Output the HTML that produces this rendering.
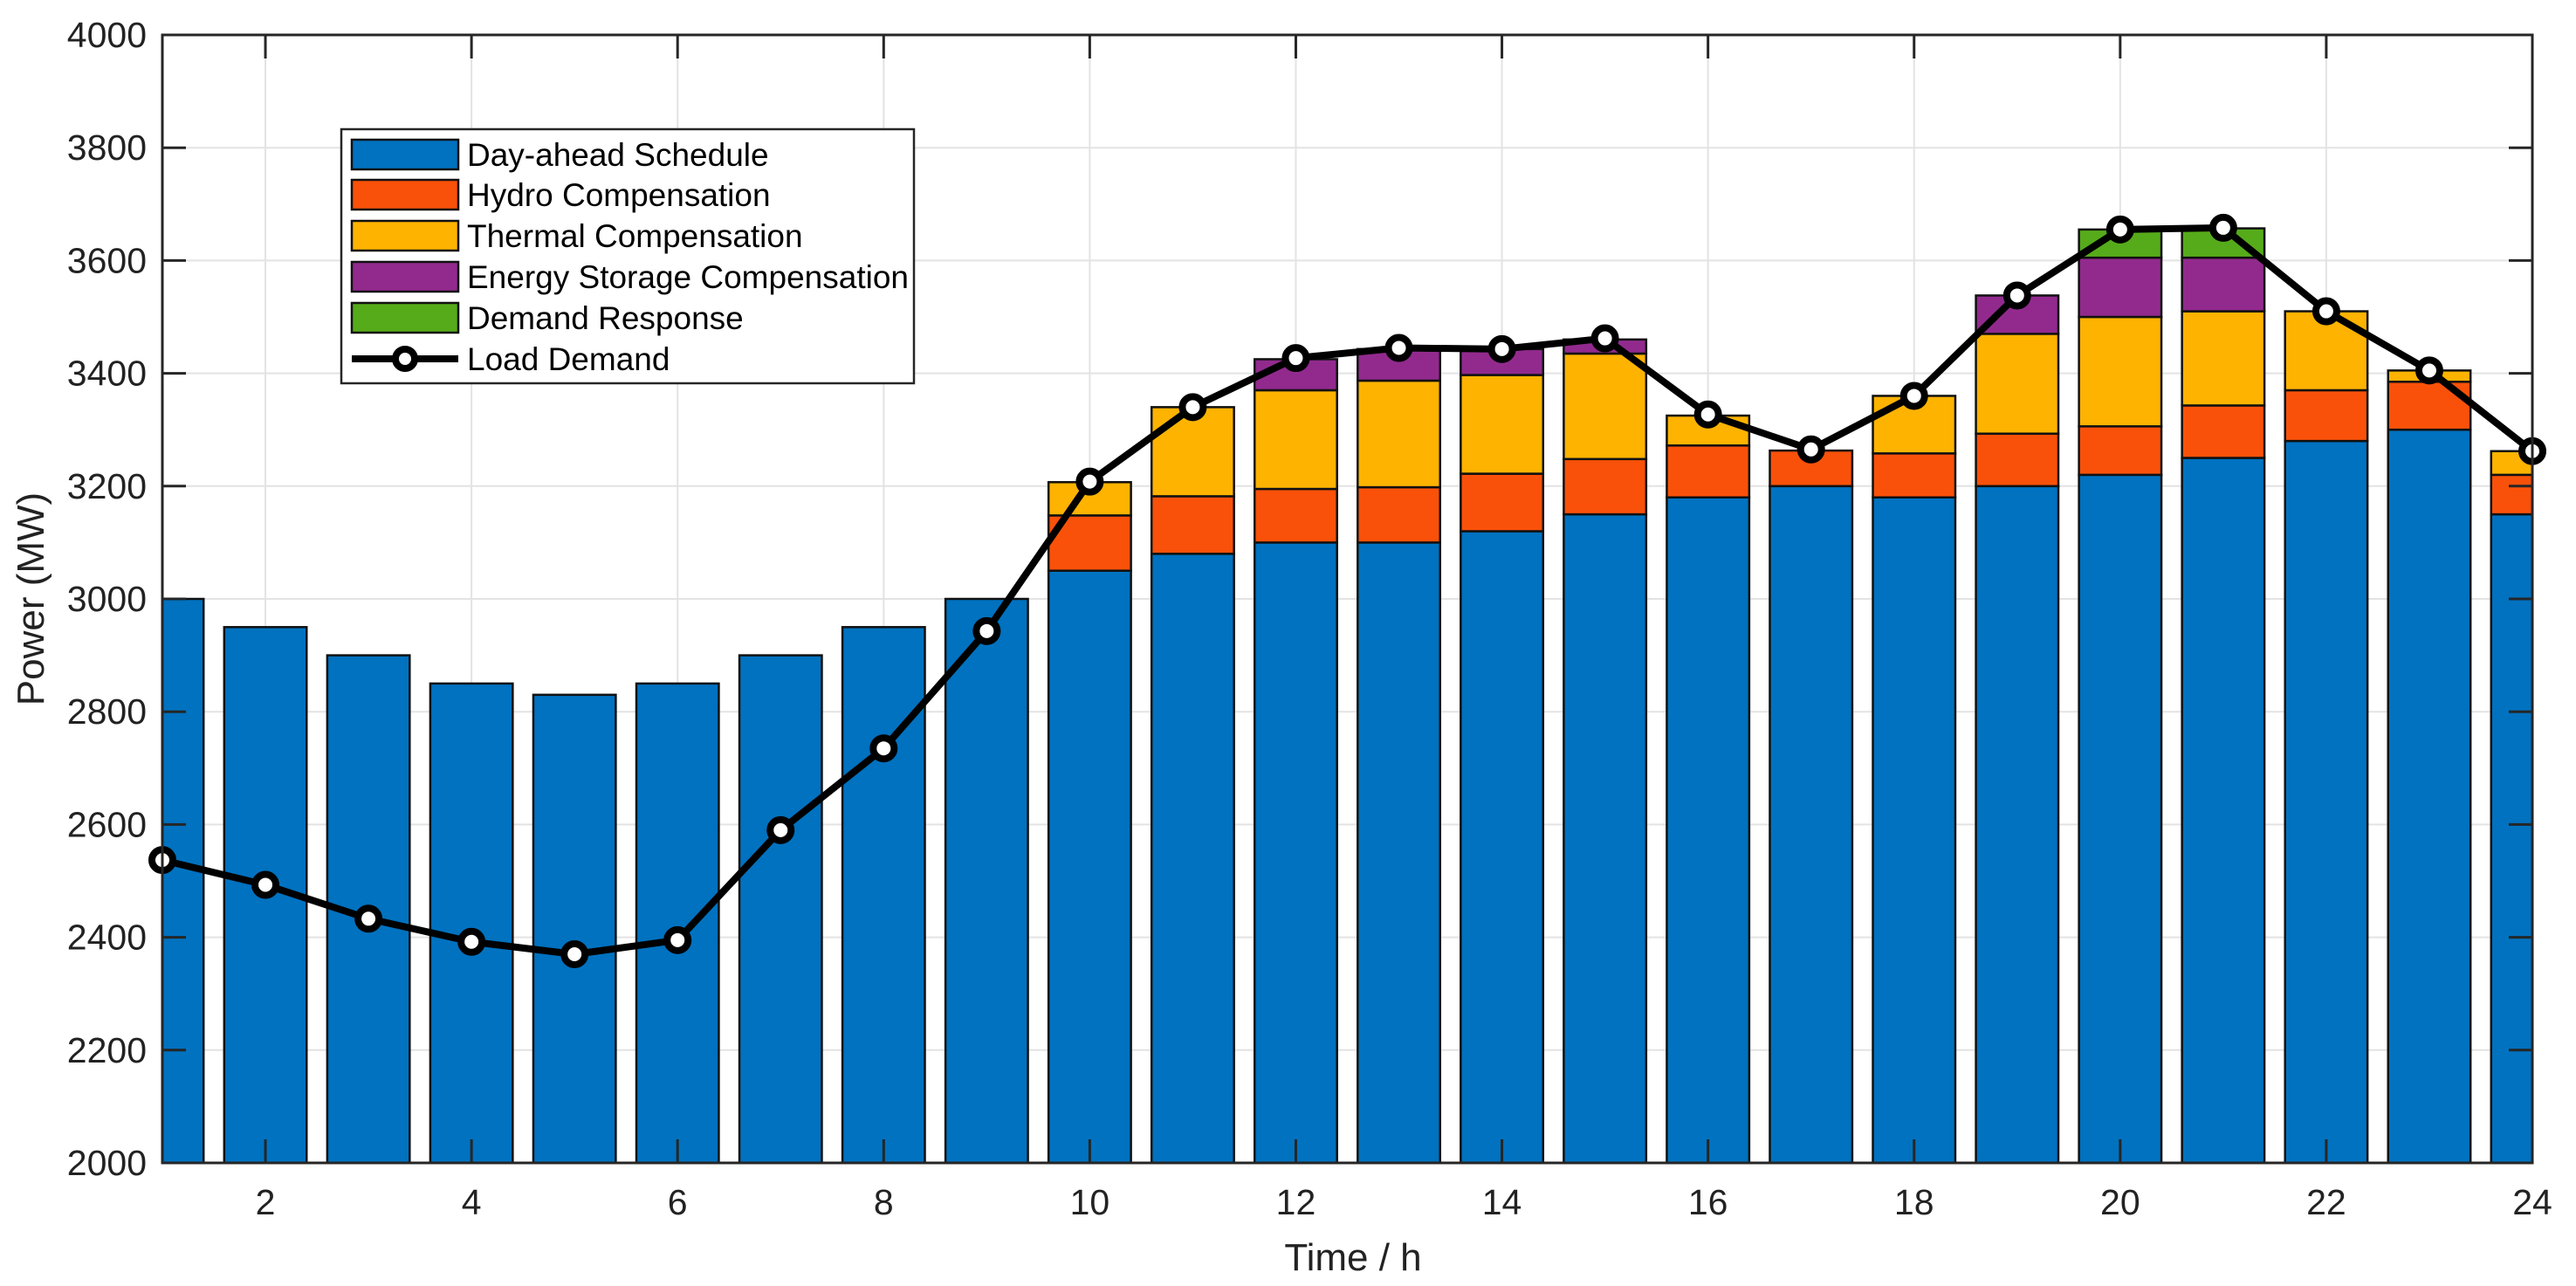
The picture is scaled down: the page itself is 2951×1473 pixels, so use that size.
<!DOCTYPE html>
<html><head><meta charset="utf-8"><style>
html,body{margin:0;padding:0;background:#fff;}
svg{display:block;font-family:"Liberation Sans",Arial,sans-serif;}
</style></head><body>
<svg id="chart" width="2951" height="1473" viewBox="0 0 2951 1473" xmlns="http://www.w3.org/2000/svg">
<defs><clipPath id="plotclip"><rect x="186" y="40" width="2715" height="1292"/></clipPath></defs>
<g id="grid"></g>
<g id="bars" clip-path="url(#plotclip)"></g>
<g id="line"></g>
<g id="axes"></g>
<text x="1550" y="1455" font-size="44" text-anchor="middle" fill="#222">Time / h</text>
<text x="0" y="0" font-size="44" text-anchor="middle" fill="#222" transform="translate(50,686) rotate(-90)">Power (MW)</text>
<g id="legend"></g>
</svg>
<script>
const hours = [1,2,3,4,5,6,7,8,9,10,11,12,13,14,15,16,17,18,19,20,21,22,23,24];
const dayAhead = [3000,2950,2900,2850,2830,2850,2900,2950,3000,3050,3080,3100,3100,3120,3150,3180,3200,3180,3200,3220,3250,3280,3300,3150];
const hydro = [0,0,0,0,0,0,0,0,0,98,102,95,98,102,98,92,63,78,93,86,93,90,85,70];
const thermal = [0,0,0,0,0,0,0,0,0,59,158,175,189,175,187,53,0,102,177,194,167,140,20,42];
const storage = [0,0,0,0,0,0,0,0,0,0,0,55,56,46,25,0,0,0,68,105,95,0,0,0];
const demandResp = [0,0,0,0,0,0,0,0,0,0,0,0,0,0,0,0,0,0,0,50,52,0,0,0];
const loadDemand = [2537,2493,2433,2392,2370,2395,2590,2735,2943,3208,3340,3427,3445,3443,3462,3327,3265,3360,3538,3655,3658,3510,3405,3262];
const xTicks = [2,4,6,8,10,12,14,16,18,20,22,24];
const yTicks = [2000,2200,2400,2600,2800,3000,3200,3400,3600,3800,4000];
const seriesNames = ["Day-ahead Schedule","Hydro Compensation","Thermal Compensation","Energy Storage Compensation","Demand Response"];
const seriesColors = ["#0072C0","#F95109","#FDB300","#922A8E","#56AB1A"];

const L=186,R=2901,T=40,B=1332;
const xs = h => L + (h-1)/(24-1)*(R-L);
const ys = v => B - (v-2000)/(4000-2000)*(B-T);
const NS="http://www.w3.org/2000/svg";
function mk(tag,attrs,parent){const e=document.createElementNS(NS,tag);for(const k in attrs)e.setAttribute(k,attrs[k]);parent.appendChild(e);return e;}

const grid=document.getElementById('grid');
xTicks.forEach(t=>{const l=mk('line',{x1:xs(t),x2:xs(t),y1:T,y2:B,stroke:'#e3e3e3','stroke-width':2},grid);

});
yTicks.forEach(t=>{const l=mk('line',{x1:L,x2:R,y1:ys(t),y2:ys(t),stroke:'#e3e3e3','stroke-width':2},grid);

});

const bars=document.getElementById('bars');
const series=[dayAhead,hydro,thermal,storage,demandResp];
const bw=0.8*(R-L)/23;
hours.forEach((h,i)=>{
  let base=2000;
  series.forEach((s,k)=>{
    const v=s[i]; if(v<=0) return;
    const top = k===0 ? v : base+v;
    const r=mk('rect',{x:xs(h)-bw/2,y:ys(top),width:bw,height:ys(base)-ys(top),fill:seriesColors[k],stroke:'#111','stroke-width':2.5},bars);
    
    
    base=top;
  });
});

const lg=document.getElementById('line');
const pts=hours.map((h,i)=>xs(h)+','+ys(loadDemand[i])).join(' ');
const pl=mk('polyline',{points:pts,fill:'none',stroke:'#000','stroke-width':8,'stroke-linejoin':'round'},lg);


hours.forEach((h,i)=>{const c=mk('circle',{cx:xs(h),cy:ys(loadDemand[i]),r:12,fill:'#fff',stroke:'#000','stroke-width':8},lg);

});

const ax=document.getElementById('axes');
const box=mk('rect',{x:L,y:T,width:R-L,height:B-T,fill:'none',stroke:'#262626','stroke-width':3},ax);


xTicks.forEach(t=>{
  mk('line',{x1:xs(t),x2:xs(t),y1:B,y2:B-27,stroke:'#262626','stroke-width':3},ax);
  mk('line',{x1:xs(t),x2:xs(t),y1:T,y2:T+27,stroke:'#262626','stroke-width':3},ax);
  const tx=mk('text',{x:xs(t),y:1391,'font-size':41,'text-anchor':'middle',fill:'#222'},ax);
  tx.textContent=t;
  
  
});
yTicks.forEach(t=>{
  mk('line',{x1:L,x2:L+27,y1:ys(t),y2:ys(t),stroke:'#262626','stroke-width':3},ax);
  mk('line',{x1:R,x2:R-27,y1:ys(t),y2:ys(t),stroke:'#262626','stroke-width':3},ax);
  const tx=mk('text',{x:168,y:ys(t)+14,'font-size':41,'text-anchor':'end',fill:'#222'},ax);
  tx.textContent=t;
  
  
});

const lgd=document.getElementById('legend');
const lb=mk('rect',{x:391,y:148,width:656,height:291,fill:'#fff',stroke:'#262626','stroke-width':2.5},lgd);


const rowY=[177,223,270,317,364,411];
seriesNames.forEach((n,k)=>{
  const sw=mk('rect',{x:403,y:rowY[k]-17,width:122,height:34,fill:seriesColors[k],stroke:'#111','stroke-width':2.5},lgd);
  
  
  const tx=mk('text',{x:535,y:rowY[k]+13,'font-size':37,fill:'#000'},lgd);
  tx.textContent=n;
  
  
});
mk('line',{x1:403,x2:525,y1:rowY[5],y2:rowY[5],stroke:'#000','stroke-width':8},lgd);
mk('circle',{cx:464,cy:rowY[5],r:11,fill:'#fff',stroke:'#000','stroke-width':8},lgd);
const lt=mk('text',{x:535,y:rowY[5]+13,'font-size':37,fill:'#000'},lgd);
lt.textContent='Load Demand';


</script>
</body></html>
